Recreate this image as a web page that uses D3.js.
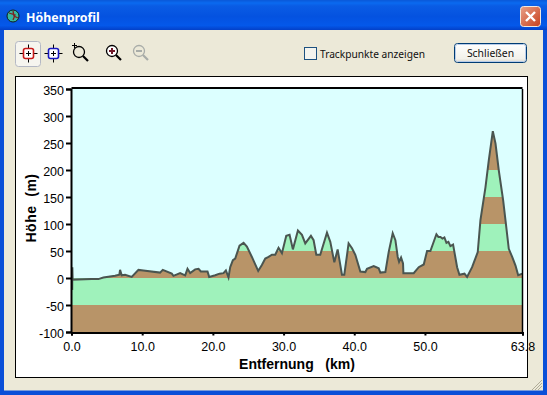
<!DOCTYPE html>
<html><head><meta charset="utf-8">
<script src="https://cdn.jsdelivr.net/npm/d3@7"></script>
<style>html,body{margin:0;padding:0;background:#0a4fd8;overflow:hidden}svg{display:block}text{font-family:"Liberation Sans",Arial,sans-serif}</style>
</head><body><svg id="c" width="547" height="395"></svg>
<script>
const distanceKm=[0.1,0.12,0.16,2.86,3.8,4.51,6.16,6.77,6.87,7.1,7.58,8.52,9.47,10.17,12.53,12.91,14.19,14.42,15.37,16.08,16.41,16.79,17.49,17.97,18.3,19.24,19.48,20.33,20.94,21.5,21.84,22.21,22.45,22.83,23.16,23.77,24.34,24.81,25.52,26.41,26.93,27.41,27.88,28.35,28.82,29.29,29.77,30.38,30.85,31.32,32.03,32.6,33.07,33.87,34.25,34.63,35.19,36.14,36.61,37.18,37.65,38.26,38.59,39.2,39.68,40.15,40.86,41.57,41.8,42.75,43.46,43.69,44.4,44.87,45.44,45.82,46.15,46.34,46.62,46.9,46.95,48.41,49.12,49.83,50.3,50.77,51.62,51.9,52.19,52.47,52.75,53.04,53.32,53.6,53.98,54.55,54.88,55.59,55.96,56.67,57.47,57.85,58.56,59.03,59.6,59.98,60.45,61.06,61.39,61.86,62.34,62.81,63.19,63.8];
const elevationM=[-22,20,-3,-2,-2,1,4,6,15,5,6,2,15,14,10,15,8,4,9,5,17,9,16,17,12,12,2,5,8,9,14,1,20,33,36,60,65,58,39,13,24,36,39,43,43,56,46,78,80,53,88,80,64,78,70,43,43,84,67,29,53,6,6,64,55,43,12,11,17,22,18,10,11,48,83,70,39,30,38,27,9,9,20,25,50,50,81,76,76,73,75,65,67,59,62,20,6,8,2,20,48,107,168,218,272,249,199,144,107,54,39,23,5,8];
const yTicks=[-100,-50,0,50,100,150,200,250,300,350];
const xTicks=[0,10,20,30,40,50,63.8];
const xTickLabels=["0.0","10.0","20.0","30.0","40.0","50.0","63.8"];
const bandEdges=[-100,-50,0,50,100,150,200,350];
const bandFills=["#b89468","#9ff2bb","#b89468","#9ff2bb","#b89468","#9ff2bb","#b89468"];

const svg=d3.select("#c");
const defs=svg.append("defs");
const tg=defs.append("linearGradient").attr("id","tb").attr("x1",0).attr("x2",0).attr("y1",0).attr("y2",1);
[[0,"#0a58d8"],[.1,"#0a6af0"],[.2,"#0a5ce4"],[.55,"#0452e0"],[.85,"#0458ea"],[1,"#0340c8"]].forEach(s=>tg.append("stop").attr("offset",s[0]).attr("stop-color",s[1]));
const rg=defs.append("linearGradient").attr("id","cl").attr("x1",0).attr("x2",1).attr("y1",0).attr("y2",1);
rg.append("stop").attr("offset",0).attr("stop-color","#e8a088");rg.append("stop").attr("offset",1).attr("stop-color","#c8401c");
const bg=defs.append("linearGradient").attr("id","bt").attr("x1",0).attr("x2",0).attr("y1",0).attr("y2",1);
bg.append("stop").attr("offset",0).attr("stop-color","#ffffff");bg.append("stop").attr("offset",.8).attr("stop-color","#f2f1ea");bg.append("stop").attr("offset",1).attr("stop-color","#d8d6cc");

// window chrome
svg.append("rect").attr("width",547).attr("height",395).attr("fill","#0a4fd8");
svg.append("rect").attr("width",547).attr("height",30).attr("fill","url(#tb)");
svg.append("rect").attr("x",4).attr("y",30).attr("width",539).attr("height",360.5).attr("fill","#ece9d8");
svg.append("text").attr("x",26).attr("y",22).attr("fill","#fff").attr("font-size",12.4).attr("font-weight",700).style("font-family","'Noto Sans'").text("Höhenprofil");
// title icon
const ic=svg.append("g").attr("transform","translate(13,16)");
ic.append("circle").attr("r",6).attr("fill","#38b8a0").attr("stroke","#10201c");
ic.append("path").attr("d","M-4,-3L2,-1L0,4M0,-5L1,0L5,2").attr("fill","none").attr("stroke","#802020").attr("stroke-width",1.3);
// close button
svg.append("rect").attr("x",520.5).attr("y",6.5).attr("width",20).attr("height",20).attr("rx",3).attr("fill","url(#cl)").attr("stroke","#f0e8e0");
svg.append("path").attr("d","M526,12L535,21M535,12L526,21").attr("stroke","#fff").attr("stroke-width",2.4);

// toolbar
svg.append("rect").attr("x",15.5).attr("y",41.5).attr("width",25).attr("height",25).attr("rx",3).attr("fill","#f6f5ef").attr("stroke","#b4b8c4");
function cross(cx,cy,col){const g=svg.append("g").attr("transform",`translate(${cx},${cy})`);
 g.append("path").attr("d","M-9,0H9M0,-9V9").attr("stroke","#000").attr("fill","none");
 g.append("rect").attr("x",-5).attr("y",-5).attr("width",10).attr("height",10).attr("rx",2).attr("fill","#fff").attr("stroke",col).attr("stroke-width",1.6);
 g.append("path").attr("d","M-2.5,0H2.5M0,-2.5V2.5").attr("stroke","#000").attr("fill","none");}
cross(28.5,53.5,"#c81818");cross(53.5,53.5,"#1818c0");
function lens(cx,cy,col,sym,fill){const g=svg.append("g").attr("transform",`translate(${cx},${cy})`);
 g.append("circle").attr("r",5.5).attr("fill",fill).attr("stroke",col).attr("stroke-width",1.3);
 g.append("path").attr("d","M4,4L9,9").attr("stroke",col).attr("stroke-width",2.2);
 if(sym)g.append("path").attr("d",sym).attr("stroke",col==="#000"?"#701828":col).attr("stroke-width",2);}
lens(79,52,"#000",null,"none");svg.append("path").attr("d","M72,45.5H77M74.5,43V48").attr("stroke","#000");
lens(112,51,"#000","M-3,0H3M0,-3V3","#fff");lens(139,51,"#a8aca8","M-3,0H3","none");

// checkbox
svg.append("rect").attr("x",304.5).attr("y",47.5).attr("width",12).attr("height",12).attr("fill","#f4f4ee").attr("stroke","#1c5180");
svg.append("text").attr("x",320).attr("y",58).attr("font-size",10.2).attr("fill","#101010").style("font-family","'Noto Sans'").text("Trackpunkte anzeigen");
// button
svg.append("rect").attr("x",454.5).attr("y",43.5).attr("width",72).attr("height",19).attr("rx",3).attr("fill","url(#bt)").attr("stroke","#003c74");
svg.append("rect").attr("x",455.5).attr("y",44.5).attr("width",70).attr("height",17).attr("rx",2).attr("fill","none").attr("stroke","#b8cce8");
svg.append("text").attr("x",490.5).attr("y",57).attr("text-anchor","middle").attr("font-size",10.4).attr("fill","#101010").style("font-family","'Noto Sans'").text("Schließen");

// resize grip
svg.append("path").attr("d","M542,380L532,390M542,383L535,390M542,386L538,390").attr("stroke","#b0ac98");

// chart panel
svg.append("rect").attr("x",15.5).attr("y",76.5).attr("width",512).attr("height",301).attr("fill","#fff").attr("stroke","#000");
const x=d3.scaleLinear().domain([0,63.8]).range([71.5,522.5]);
const y=d3.scaleLinear().domain([-100,350]).range([332,89]);
svg.append("rect").attr("x",x(0)).attr("y",y(350)).attr("width",x(63.8)-x(0)).attr("height",y(-100)-y(350)).attr("fill","#dcffff");
const pts=d3.range(distanceKm.length);
const area=d3.area().x(i=>x(distanceKm[i])).y0(y(-100)).y1(i=>y(elevationM[i]));
defs.append("clipPath").attr("id","terrain").append("path").attr("d",area(pts));
svg.append("g").attr("clip-path","url(#terrain)").selectAll("rect").data(bandFills).join("rect")
 .attr("x",x(0)).attr("width",x(63.8)-x(0))
 .attr("y",(d,i)=>y(bandEdges[i+1])).attr("height",(d,i)=>y(bandEdges[i])-y(bandEdges[i+1])).attr("fill",d=>d);
svg.append("rect").attr("x",x(0)).attr("y",y(0)).attr("width",x(63.8)-x(0)).attr("height",y(-50)-y(0)).attr("fill",bandFills[1]);
svg.append("rect").attr("x",x(0)).attr("y",y(-50)).attr("width",x(63.8)-x(0)).attr("height",y(-100)-y(-50)).attr("fill",bandFills[0]);
svg.append("path").attr("d",d3.line().x(i=>x(distanceKm[i])).y(i=>y(elevationM[i]))(pts)).attr("fill","none").attr("stroke","#4a5550").attr("stroke-width",2);

// axes
const ax=svg.append("g").attr("transform",`translate(71,0)`).call(d3.axisLeft(y).tickValues(yTicks).tickSize(5).tickPadding(2).tickFormat(d=>String(d)));
const bx=svg.append("g").attr("transform",`translate(0,332.5)`).call(d3.axisBottom(x).tickValues(xTicks).tickSize(3).tickPadding(7).tickFormat((d,i)=>xTickLabels[i]));
[ax,bx].forEach(g=>{g.select(".domain").attr("stroke","#000").attr("stroke-width",2);g.selectAll(".tick line").attr("stroke","#000").attr("stroke-width",2);g.selectAll("text").attr("font-size",12.5).attr("fill","#000").style("font-family","'Liberation Sans'");});
ax.selectAll(".tick text").attr("dy","0.4em");
svg.append("path").attr("d",`M${x(0)},${y(350)-1}H${x(63.8)}`).attr("fill","none").attr("stroke","#000").attr("stroke-width",2);
svg.append("path").attr("d",`M${x(63.8)},${y(350)}V${y(-100)}`).attr("fill","none").attr("stroke","#000").attr("stroke-width",1.5);
svg.append("text").attr("x",297).attr("y",369).attr("text-anchor","middle").attr("font-size",14).attr("font-weight",700).attr("fill","#000").style("white-space","pre").text("Entfernung   (km)");
svg.append("text").attr("transform","translate(36,208) rotate(-90)").attr("text-anchor","middle").attr("font-size",14).attr("font-weight",700).attr("fill","#000").style("white-space","pre").style("letter-spacing","0.5px").text("Höhe  (m)");
</script></body></html>
